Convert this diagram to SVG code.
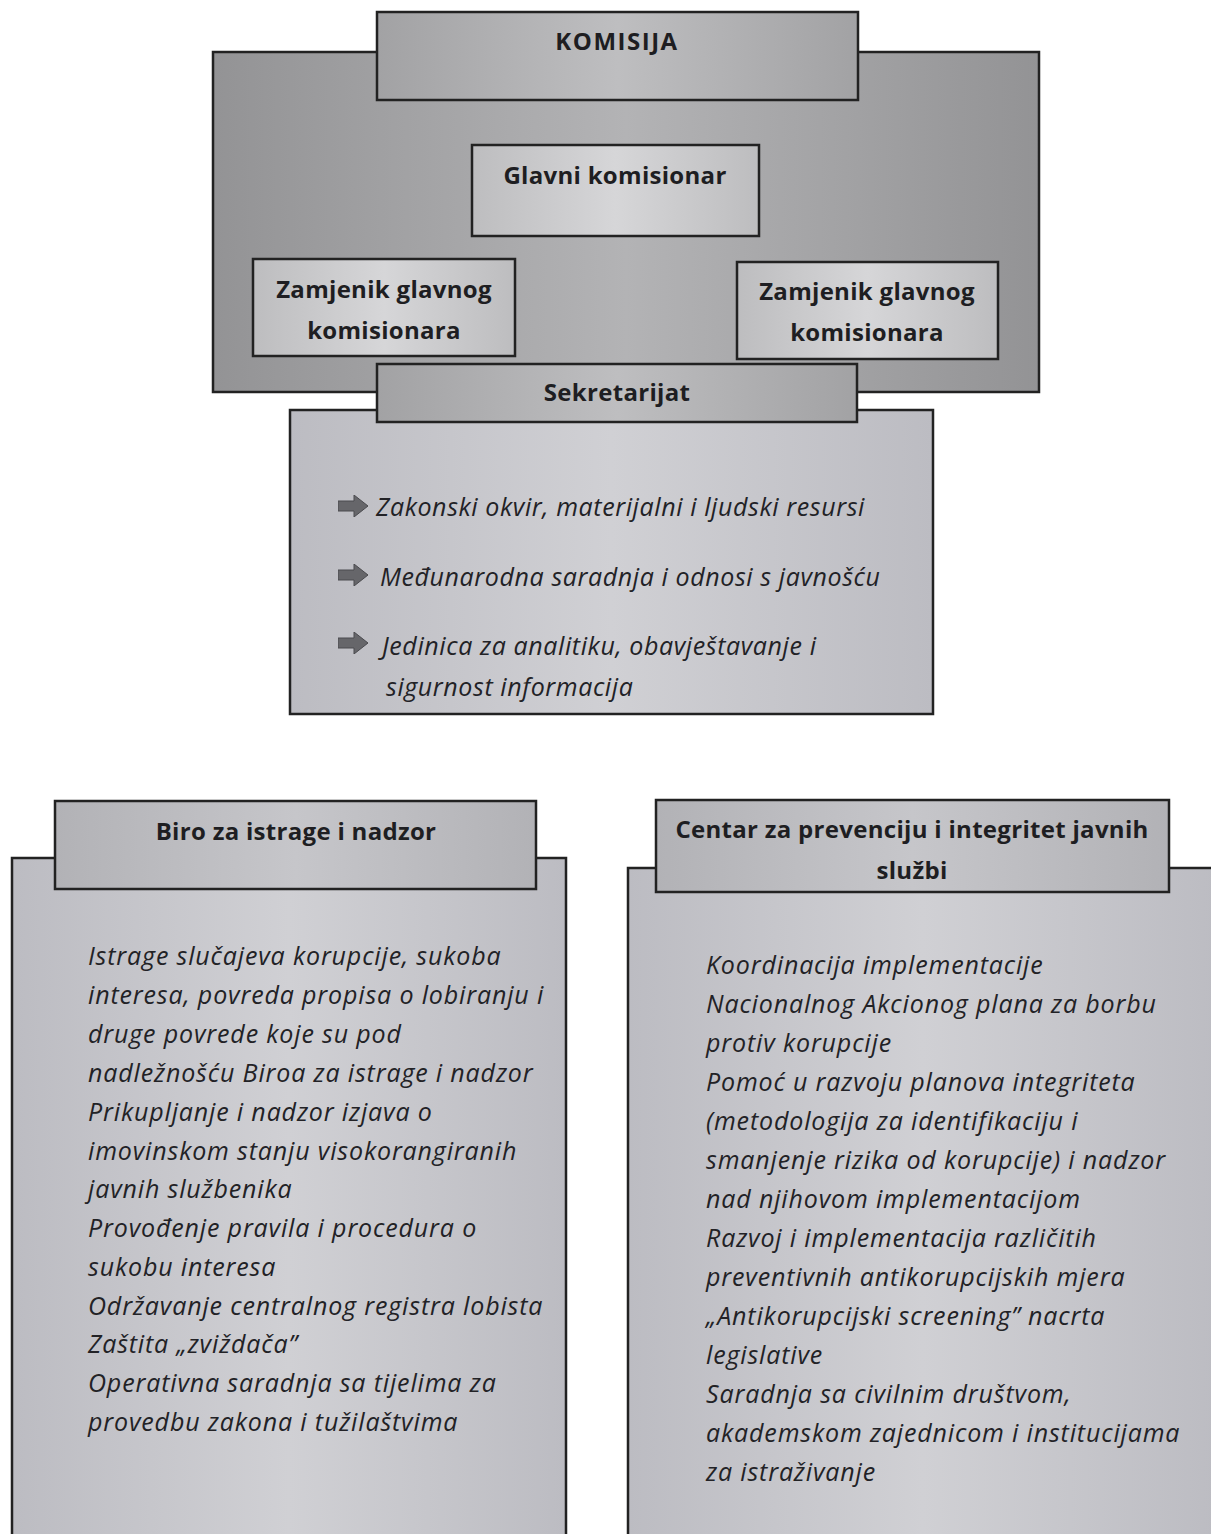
<svg xmlns="http://www.w3.org/2000/svg" width="1211" height="1534" viewBox="0 0 1211 1534">
<defs>
<linearGradient id="gOuter" x1="0" x2="1" y1="0" y2="0">
<stop offset="0" stop-color="#939395"/><stop offset="0.5" stop-color="#b3b3b5"/><stop offset="1" stop-color="#939395"/>
</linearGradient>
<linearGradient id="gHead" x1="0" x2="1" y1="0" y2="0">
<stop offset="0" stop-color="#a2a2a4"/><stop offset="0.5" stop-color="#bebec0"/><stop offset="1" stop-color="#a2a2a4"/>
</linearGradient>
<linearGradient id="gLight" x1="0" x2="1" y1="0" y2="0">
<stop offset="0" stop-color="#bdbdbf"/><stop offset="0.5" stop-color="#d6d6d8"/><stop offset="1" stop-color="#bdbdbf"/>
</linearGradient>
<linearGradient id="gBody" x1="0" x2="1" y1="0" y2="0">
<stop offset="0" stop-color="#bcbcc2"/><stop offset="0.5" stop-color="#d0d0d4"/><stop offset="1" stop-color="#bcbcc2"/>
</linearGradient>
<linearGradient id="gSubHead" x1="0" x2="1" y1="0" y2="0">
<stop offset="0" stop-color="#b2b2b6"/><stop offset="0.5" stop-color="#c6c6ca"/><stop offset="1" stop-color="#b2b2b6"/>
</linearGradient>
<symbol id="arr" viewBox="0 0 30 22">
<path d="M0 6 H16 V0 L30 11 L16 22 V16 H0 Z" fill="#66666a" stroke="#4a4a4e" stroke-width="1"/>
</symbol>
</defs>
<style>
.box{stroke:#222;stroke-width:2.5}
.hd{font-family:"Open Sans","Liberation Sans",Arial,sans-serif;font-weight:bold;font-size:24px;letter-spacing:0.3px;fill:#1e1e22;text-anchor:middle}
.it{font-family:"Open Sans","Liberation Sans",Arial,sans-serif;font-style:italic;font-size:25px;letter-spacing:0.85px;fill:#222226}
</style>
<rect width="1211" height="1534" fill="#ffffff"/>

<g id="komisija">
<rect class="box" x="213" y="52" width="826" height="340" fill="url(#gOuter)"/>
<rect class="box" x="377" y="12" width="481" height="88" fill="url(#gHead)"/>
<text class="hd" x="617" y="50" style="letter-spacing:1.5px">KOMISIJA</text>
</g>

<g id="glavni">
<rect class="box" x="472" y="145" width="287" height="91" fill="url(#gLight)"/>
<text class="hd" x="615" y="184">Glavni komisionar</text>
</g>

<g id="zamjenik1">
<rect class="box" x="253" y="259" width="262" height="97" fill="url(#gLight)"/>
<text class="hd" x="384" y="298">Zamjenik glavnog</text>
<text class="hd" x="384" y="339">komisionara</text>
</g>

<g id="zamjenik2">
<rect class="box" x="737" y="262" width="261" height="97" fill="url(#gLight)"/>
<text class="hd" x="867" y="300">Zamjenik glavnog</text>
<text class="hd" x="867" y="341">komisionara</text>
</g>

<g id="sekretarijat">
<rect class="box" x="290" y="410" width="643" height="304" fill="url(#gBody)"/>
<rect class="box" x="377" y="364" width="480" height="58" fill="url(#gHead)"/>
<text class="hd" x="617" y="401">Sekretarijat</text>
<use href="#arr" x="338" y="495" width="30" height="22"/>
<text class="it" x="376" y="516" style="letter-spacing:0.6px">Zakonski okvir, materijalni i ljudski resursi</text>
<use href="#arr" x="338" y="564" width="30" height="22"/>
<text class="it" x="380" y="586" style="letter-spacing:0.6px">Međunarodna saradnja i odnosi s javnošću</text>
<use href="#arr" x="338" y="632" width="30" height="22"/>
<text class="it" x="382" y="655" style="letter-spacing:0.6px">Jedinica za analitiku, obavještavanje i</text>
<text class="it" x="386" y="696" style="letter-spacing:0.6px">sigurnost informacija</text>
</g>

<g id="biro">
<rect x="12" y="858" width="554" height="680" fill="url(#gBody)"/>
<path class="box" d="M12 1538 V858 H566 V1538" fill="none"/>
<rect class="box" x="55" y="801" width="481" height="88" fill="url(#gSubHead)"/>
<text class="hd" x="296" y="840">Biro za istrage i nadzor</text>
<text class="it" x="88" y="965">Istrage slučajeva korupcije, sukoba</text>
<text class="it" x="88" y="1004">interesa, povreda propisa o lobiranju i</text>
<text class="it" x="88" y="1043">druge povrede koje su pod</text>
<text class="it" x="88" y="1082">nadležnošću Biroa za istrage i nadzor</text>
<text class="it" x="88" y="1121">Prikupljanje i nadzor izjava o</text>
<text class="it" x="88" y="1160">imovinskom stanju visokorangiranih</text>
<text class="it" x="88" y="1198">javnih službenika</text>
<text class="it" x="88" y="1237">Provođenje pravila i procedura o</text>
<text class="it" x="88" y="1276">sukobu interesa</text>
<text class="it" x="88" y="1315">Održavanje centralnog registra lobista</text>
<text class="it" x="88" y="1353">Zaštita „zviždača”</text>
<text class="it" x="88" y="1392">Operativna saradnja sa tijelima za</text>
<text class="it" x="88" y="1431">provedbu zakona i tužilaštvima</text>
</g>

<g id="centar">
<rect x="628" y="868" width="590" height="670" fill="url(#gBody)"/>
<path class="box" d="M628 1538 V868 H1215" fill="none"/>
<rect class="box" x="656" y="800" width="513" height="92" fill="url(#gSubHead)"/>
<text class="hd" x="912" y="838">Centar za prevenciju i integritet javnih</text>
<text class="hd" x="912" y="879">službi</text>
<text class="it" x="706" y="974">Koordinacija implementacije</text>
<text class="it" x="706" y="1013">Nacionalnog Akcionog plana za borbu</text>
<text class="it" x="706" y="1052">protiv korupcije</text>
<text class="it" x="706" y="1091">Pomoć u razvoju planova integriteta</text>
<text class="it" x="706" y="1130">(metodologija za identifikaciju i</text>
<text class="it" x="706" y="1169">smanjenje rizika od korupcije) i nadzor</text>
<text class="it" x="706" y="1208">nad njihovom implementacijom</text>
<text class="it" x="706" y="1247">Razvoj i implementacija različitih</text>
<text class="it" x="706" y="1286">preventivnih antikorupcijskih mjera</text>
<text class="it" x="706" y="1325">„Antikorupcijski screening” nacrta</text>
<text class="it" x="706" y="1364">legislative</text>
<text class="it" x="706" y="1403">Saradnja sa civilnim društvom,</text>
<text class="it" x="706" y="1442">akademskom zajednicom i institucijama</text>
<text class="it" x="706" y="1481">za istraživanje</text>
</g>

<g id="connectors"></g>
</svg>
